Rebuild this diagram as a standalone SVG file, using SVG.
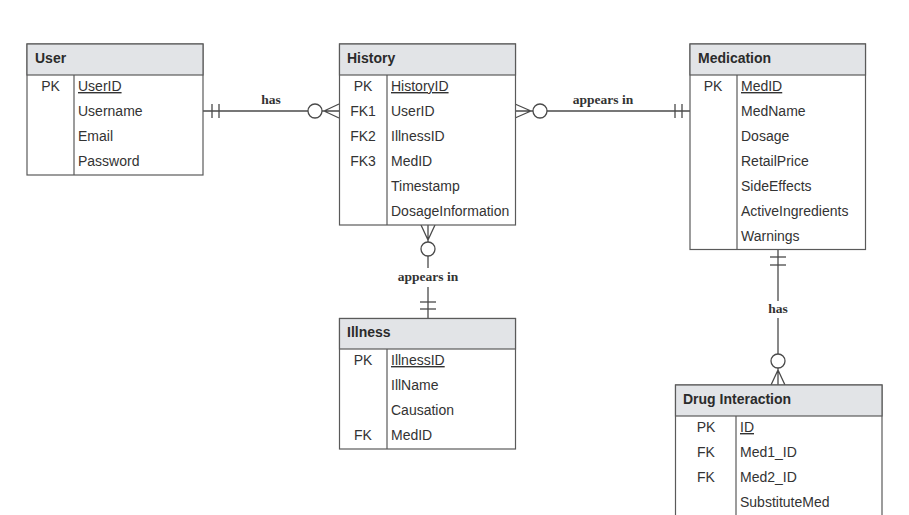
<svg xmlns="http://www.w3.org/2000/svg" width="909" height="515" viewBox="0 0 909 515">
<style>
.box{fill:#fff;stroke:#5a5a5a;stroke-width:1.2}
.hdr{fill:#e2e4e7;stroke:#5a5a5a;stroke-width:1.2}
.div{stroke:#5a5a5a;stroke-width:1.2}
.ht{font-family:"Liberation Sans",Arial,sans-serif;font-weight:bold;font-size:14px;fill:#2b2b2b}
.rt{font-family:"Liberation Sans",Arial,sans-serif;font-size:14px;fill:#333}
.k{text-anchor:middle}
.u{text-decoration:underline}
.ln{stroke:#4a4a4a;stroke-width:1.3;fill:none}
.lbl{font-family:"Liberation Serif","Times New Roman",serif;font-weight:bold;font-size:13.5px;fill:#333;text-anchor:middle}
</style>
<rect width="909" height="515" fill="#fff"/>
<g id="connectors">
  <!-- User - History -->
  <line class="ln" x1="203" y1="111" x2="308" y2="111"/>
  <line class="ln" x1="212" y1="104" x2="212" y2="118"/>
  <line class="ln" x1="219" y1="104" x2="219" y2="118"/>
  <circle class="ln" cx="315" cy="111" r="7" fill="#fff"/>
  <path class="ln" d="M322 111 L339 111 M324 111 L339 104 M324 111 L339 118"/>
  <text class="lbl" x="271" y="103.5">has</text>
  <!-- History - Medication -->
  <path class="ln" d="M515 111 L533 111 M515 104 L531 111 M515 118 L531 111"/>
  <circle class="ln" cx="540" cy="111" r="7" fill="#fff"/>
  <line class="ln" x1="547" y1="111" x2="690" y2="111"/>
  <line class="ln" x1="675" y1="104" x2="675" y2="118"/>
  <line class="ln" x1="682" y1="104" x2="682" y2="118"/>
  <text class="lbl" x="603" y="103.5">appears in</text>
  <!-- History - Illness -->
  <path class="ln" d="M428 225 L428 242 M421 225 L428 240 M435 225 L428 240"/>
  <circle class="ln" cx="428" cy="249" r="7" fill="#fff"/>
  <line class="ln" x1="428" y1="256" x2="428" y2="268"/>
  <line class="ln" x1="428" y1="287" x2="428" y2="318"/>
  <line class="ln" x1="420" y1="302" x2="436" y2="302"/>
  <line class="ln" x1="420" y1="309" x2="436" y2="309"/>
  <text class="lbl" x="428" y="281">appears in</text>
  <!-- Medication - Drug Interaction -->
  <line class="ln" x1="778" y1="249" x2="778" y2="301"/>
  <line class="ln" x1="770" y1="257" x2="786" y2="257"/>
  <line class="ln" x1="770" y1="265" x2="786" y2="265"/>
  <line class="ln" x1="778" y1="318" x2="778" y2="354"/>
  <circle class="ln" cx="778" cy="361" r="7" fill="#fff"/>
  <path class="ln" d="M778 368 L778 385 M778 370 L771 385 M778 370 L785 385"/>
  <text class="lbl" x="778" y="313">has</text>
</g>
<g id="user">
  <rect class="box" x="27" y="44" width="176" height="131"/>
  <rect class="hdr" x="27" y="44" width="176" height="31"/>
  <line class="div" x1="74" y1="75" x2="74" y2="175"/>
  <text class="ht" x="35" y="63">User</text>
  <text class="rt k" x="50.5" y="91">PK</text>
  <text class="rt u" x="78" y="91">UserID</text>
  <text class="rt" x="78" y="116">Username</text>
  <text class="rt" x="78" y="141">Email</text>
  <text class="rt" x="78" y="166">Password</text>
</g>
<g id="history">
  <rect class="box" x="339.5" y="44" width="176" height="181"/>
  <rect class="hdr" x="339.5" y="44" width="176" height="31"/>
  <line class="div" x1="387" y1="75" x2="387" y2="225"/>
  <text class="ht" x="347" y="63">History</text>
  <text class="rt k" x="363" y="91">PK</text>
  <text class="rt k" x="363" y="116">FK1</text>
  <text class="rt k" x="363" y="141">FK2</text>
  <text class="rt k" x="363" y="166">FK3</text>
  <text class="rt u" x="391" y="91">HistoryID</text>
  <text class="rt" x="391" y="116">UserID</text>
  <text class="rt" x="391" y="141">IllnessID</text>
  <text class="rt" x="391" y="166">MedID</text>
  <text class="rt" x="391" y="191">Timestamp</text>
  <text class="rt" x="391" y="216">DosageInformation</text>
</g>
<g id="medication">
  <rect class="box" x="690" y="44" width="175.5" height="205.5"/>
  <rect class="hdr" x="690" y="44" width="175.5" height="31"/>
  <line class="div" x1="737" y1="75" x2="737" y2="249.5"/>
  <text class="ht" x="698" y="63">Medication</text>
  <text class="rt k" x="713" y="91">PK</text>
  <text class="rt u" x="741" y="91">MedID</text>
  <text class="rt" x="741" y="116">MedName</text>
  <text class="rt" x="741" y="141">Dosage</text>
  <text class="rt" x="741" y="166">RetailPrice</text>
  <text class="rt" x="741" y="191">SideEffects</text>
  <text class="rt" x="741" y="216">ActiveIngredients</text>
  <text class="rt" x="741" y="241">Warnings</text>
</g>
<g id="illness">
  <rect class="box" x="339.5" y="318.5" width="176" height="130.5"/>
  <rect class="hdr" x="339.5" y="318.5" width="176" height="30.5"/>
  <line class="div" x1="387" y1="349" x2="387" y2="449"/>
  <text class="ht" x="347" y="337">Illness</text>
  <text class="rt k" x="363" y="365">PK</text>
  <text class="rt k" x="363" y="440">FK</text>
  <text class="rt u" x="391" y="365">IllnessID</text>
  <text class="rt" x="391" y="390">IllName</text>
  <text class="rt" x="391" y="415">Causation</text>
  <text class="rt" x="391" y="440">MedID</text>
</g>
<g id="drug-interaction">
  <rect class="box" x="675.5" y="385" width="206.5" height="140"/>
  <rect class="hdr" x="675.5" y="385" width="206.5" height="31"/>
  <line class="div" x1="736" y1="416" x2="736" y2="525"/>
  <text class="ht" x="683" y="404">Drug Interaction</text>
  <text class="rt k" x="706" y="432">PK</text>
  <text class="rt k" x="706" y="457">FK</text>
  <text class="rt k" x="706" y="482">FK</text>
  <text class="rt u" x="740" y="432">ID</text>
  <text class="rt" x="740" y="457">Med1_ID</text>
  <text class="rt" x="740" y="482">Med2_ID</text>
  <text class="rt" x="740" y="507">SubstituteMed</text>
</g>
</svg>
